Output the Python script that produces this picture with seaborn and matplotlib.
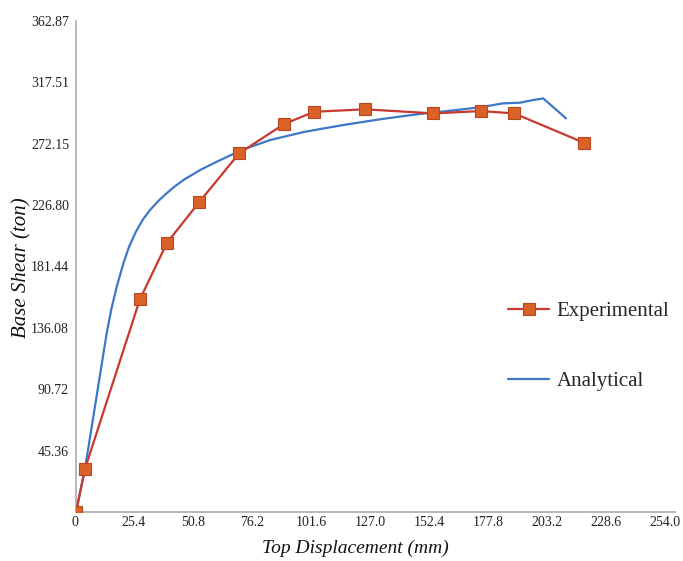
import matplotlib
matplotlib.use("Agg")
import matplotlib.pyplot as plt
import matplotlib.transforms as mtransforms
import seaborn as sns
import pandas as pd

# Experimental (markers)
exp_x = [0, 3.8, 27.1, 38.6, 52.2, 69.2, 88.2, 101.0, 122.5, 151.5, 171.6, 185.8, 215.4]
exp_y = [0, 31.8, 157.2, 199.0, 228.9, 265.1, 286.7, 295.8, 297.6, 294.6, 296.3, 294.6, 272.9]

# Analytical (line)
ana_x = [0, 3.8, 13.0, 15.0, 17.2, 20.1, 22.5, 25.5, 28.5, 31.4, 35.0, 38.4, 42.0, 45.5, 52.6, 59.7, 66.7, 72.4,
         82.3, 97.0, 113.3, 130.0, 145.9, 160.0, 171.3, 181.2, 188.3, 193.9, 196.7, 198.1, 207.8]
ana_y = [0, 31.8, 132.0, 150.0, 166.0, 183.8, 196.0, 207.5, 216.5, 223.2, 230.0, 235.5, 240.8, 245.3, 252.7, 258.9, 264.6, 268.8,
         274.9, 281.0, 286.0, 290.5, 294.2, 296.8, 299.1, 302.0, 302.5, 304.5, 305.2, 305.7, 290.9]

x_ticks = [0, 25.4, 50.8, 76.2, 101.6, 127.0, 152.4, 177.8, 203.2, 228.6, 254.0]
x_labels = ["0", "25.4", "50.8", "76.2", "101.6", "127.0", "152.4", "177.8", "203.2", "228.6", "254.0"]
y_ticks = [45.36, 90.72, 136.08, 181.44, 226.80, 272.15, 317.51, 362.87]
y_labels = ["45.36", "90.72", "136.08", "181.44", "226.80", "272.15", "317.51", "362.87"]

sns.set_style("white")
plt.rcParams['font.family'] = ['Liberation Serif', 'DejaVu Serif']

fig = plt.figure(figsize=(6.83, 5.61), dpi=100)
ax = fig.add_axes([76/683, 49/561, 599/683, 491/561])

df_exp = pd.DataFrame({"x": exp_x, "y": exp_y})
df_ana = pd.DataFrame({"x": ana_x, "y": ana_y})

sns.lineplot(data=df_exp, x="x", y="y", ax=ax, color="#C9382E", linewidth=1.6,
             marker="s", markersize=9, markerfacecolor="#DA6228", markeredgecolor="#B8461E",
             markeredgewidth=0.8, label="Experimental", sort=False, zorder=3)
sns.lineplot(data=df_ana, x="x", y="y", ax=ax, color="#3D78C8", linewidth=1.6,
             label="Analytical", sort=False, zorder=2)

ax.set_xlim(0, 254)
ax.set_ylim(0, 362.87)
ax.set_xticks(x_ticks)
ax.set_xticklabels(x_labels)
ax.set_yticks(y_ticks)
ax.set_yticklabels(y_labels)
ax.tick_params(axis="y", direction="out", length=4, width=1,
               color="#AAAAAA", labelsize=10, labelcolor="#222222", pad=1)
ax.tick_params(axis="x", direction="in", length=3, width=1,
               color="#AAAAAA", labelsize=10, labelcolor="#222222", pad=3)
n = len(x_labels)
for i, lab in enumerate(ax.get_xticklabels()):
    dx = -(1 + 6 * i / (n - 1)) / 72.0
    lab.set_transform(lab.get_transform() + mtransforms.ScaledTranslation(dx, 0, fig.dpi_scale_trans))
for s in ["top", "right"]:
    ax.spines[s].set_visible(False)
for s in ["left", "bottom"]:
    ax.spines[s].set_color("#AAAAAA")
    ax.spines[s].set_linewidth(1.2)
ax.set_xlabel("")
ax.set_ylabel("")

fig.text(355/683, 1 - 548/561, "Top Displacement (mm)", ha="center", va="center",
         fontsize=14, style="italic", color="#111111")
fig.text(22/683, 1 - 268/561, "Base Shear (ton)", ha="center", va="center",
         rotation=90, fontsize=15, style="italic", color="#111111")

leg = ax.legend(loc="upper left", bbox_to_anchor=(489/683, 1 - 283/561),
                bbox_transform=fig.transFigure, frameon=False, fontsize=15,
                handlelength=2.0, labelspacing=2.4, handletextpad=0.35, borderpad=0.4)

fig.savefig("out.png", dpi=100)
